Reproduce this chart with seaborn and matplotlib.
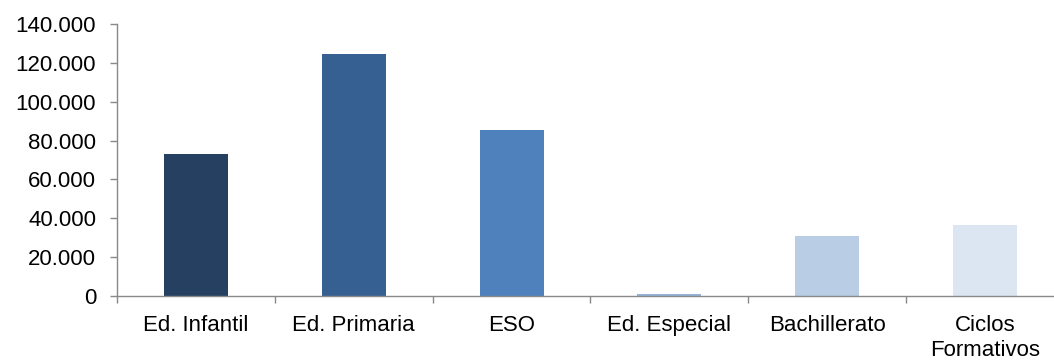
import matplotlib
matplotlib.use("Agg")
import matplotlib.pyplot as plt
import matplotlib.ticker as mticker
import seaborn as sns
import pandas as pd

# datos
niveles = ["Ed. Infantil", "Ed. Primaria", "ESO", "Ed. Especial", "Bachillerato", "Ciclos\nFormativos"]
alumnos = [73100, 124700, 85500, 1000, 30800, 36500]
colores = ["#264061", "#376092", "#4f81bd", "#95b3d7", "#b9cde5", "#dce6f2"]

df = pd.DataFrame({"Nivel": niveles, "Alumnos": alumnos})

sns.set_theme(style="white")
plt.rcParams["font.family"] = ["Liberation Sans", "DejaVu Sans"]

fig = plt.figure(figsize=(10.54, 3.61), dpi=100)
ax = fig.add_axes([117 / 1054, 1 - 296 / 361, 947 / 1054, 272 / 361])

sns.barplot(data=df, x="Nivel", y="Alumnos", hue="Nivel", palette=colores,
            legend=False, width=0.405, saturation=1, linewidth=0, ax=ax)

ax.set_xlim(-0.5, len(niveles) - 0.5)
ax.set_ylim(0, 140000)
ax.yaxis.set_major_locator(mticker.MultipleLocator(20000))
ax.yaxis.set_major_formatter(mticker.FuncFormatter(lambda v, p: f"{int(v):,}".replace(",", ".")))

# ticks del eje x en los limites de categoria
ax.set_xticks([i - 0.5 for i in range(len(niveles) + 1)], minor=True)
ax.tick_params(axis="x", which="major", length=0, pad=14, labelsize=16, colors="black")
ax.tick_params(axis="x", which="minor", length=5, width=1, color="#898989", direction="out", bottom=True)
ax.tick_params(axis="y", which="major", length=5, width=1, color="#898989", direction="out",
               left=True, labelsize=16, pad=10, labelcolor="black")

for s in ["top", "right"]:
    ax.spines[s].set_visible(False)
for s in ["left", "bottom"]:
    ax.spines[s].set_color("#898989")
    ax.spines[s].set_linewidth(1)

ax.set_xlabel("")
ax.set_ylabel("")

fig.savefig("out.png", dpi=100)
